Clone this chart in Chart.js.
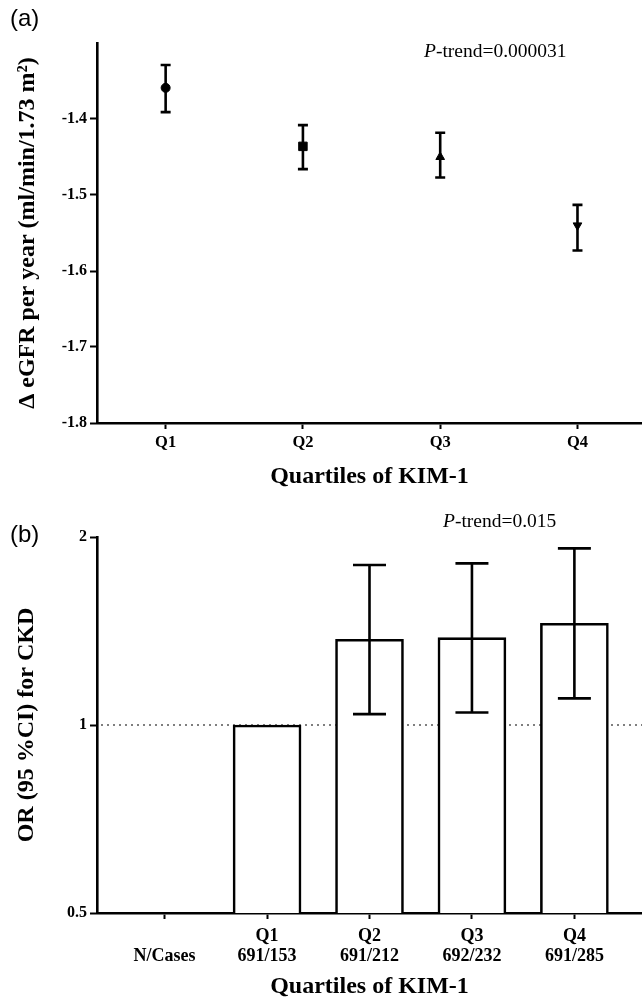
<!DOCTYPE html>
<html><head><meta charset="utf-8">
<script src="https://cdn.jsdelivr.net/npm/chart.js@4.4.0/dist/chart.umd.min.js"></script>
<style>
html,body{margin:0;padding:0;background:#fff;overflow:hidden;}
#wrap{position:relative;width:642px;height:999px;background:#fff;}
canvas{position:absolute;left:0;}
.lab{position:absolute;font-family:"Liberation Sans",Arial,sans-serif;font-size:24px;color:#000;line-height:1;}
.pt{position:absolute;font-family:"Liberation Serif","Times New Roman",serif;font-size:19.5px;color:#000;line-height:1;white-space:nowrap;}
</style></head><body>
<div id="wrap">
<canvas id="c1" width="642" height="500" style="top:0"></canvas>
<canvas id="c2" width="642" height="499" style="top:500px"></canvas>
<div class="lab" style="left:10px;top:6px">(a)</div>
<div class="lab" style="left:10px;top:522px">(b)</div>
<div class="pt" style="left:424px;top:41px"><i>P</i>-trend=0.000031</div>
<div class="pt" style="left:443px;top:511px"><i>P</i>-trend=0.015</div>
</div>
<script>
// ---- Panel (a) data ----
const quartiles = ['Q1', 'Q2', 'Q3', 'Q4'];
const egfrMean = [-1.359, -1.436, -1.450, -1.540];
const egfrLow  = [-1.391, -1.466, -1.477, -1.573];
const egfrHigh = [-1.329, -1.408, -1.418, -1.513];
const egfrTicks = [-1.8, -1.7, -1.6, -1.5, -1.4];
const markerStyles = ['circle', 'rect', 'triangle', 'triangle'];
const markerRotation = [0, 0, 0, 180];
const markerRadius = [4.5, 6, 5, 5];

// ---- Panel (b) data ----
const ckdLabels = [['', 'N/Cases'], ['Q1', '691/153'], ['Q2', '691/212'], ['Q3', '692/232'], ['Q4', '691/285']];
const orPos   = [1, 2, 3, 4];
const orValue = [1.00, 1.372, 1.38, 1.455];
const orLow   = [null, 1.041, 1.047, 1.103];
const orHigh  = [null, 1.804, 1.815, 1.918];
const orTicks = [0.5, 1, 2];
const refValue = 1;

const SERIF = '"Liberation Serif","Times New Roman",serif';

const errorBarPlugin = {
  id: 'errbars',
  beforeDatasetsDraw(chart, args, o) { if (o.before) draw(chart, o); },
  afterDatasetsDraw(chart, args, o) { if (!o.before) draw(chart, o); }
};
function draw(chart, o) {
  const {ctx, scales: {x, y}} = chart;
  ctx.save();
  ctx.strokeStyle = '#000';
  ctx.lineWidth = o.width;
  ctx.lineCap = 'butt';
  o.low.forEach((lo, i) => {
    const hi = o.high[i];
    if (lo == null || hi == null) return;
    const px = x.getPixelForValue(o.pos[i]);
    const pl = y.getPixelForValue(lo), ph = y.getPixelForValue(hi);
    ctx.beginPath();
    ctx.moveTo(px, pl); ctx.lineTo(px, ph);
    ctx.moveTo(px - o.cap / 2, pl); ctx.lineTo(px + o.cap / 2, pl);
    ctx.moveTo(px - o.cap / 2, ph); ctx.lineTo(px + o.cap / 2, ph);
    ctx.stroke();
  });
  ctx.restore();
}

const refLinePlugin = {
  id: 'refline',
  beforeDatasetsDraw(chart, args, o) {
    const {ctx, chartArea, scales: {y}} = chart;
    const py = y.getPixelForValue(o.value);
    ctx.save();
    ctx.strokeStyle = '#555';
    ctx.lineWidth = 1.6;
    ctx.setLineDash([2, 4]);
    ctx.beginPath();
    ctx.moveTo(chartArea.left + 4, py);
    ctx.lineTo(chartArea.right, py);
    ctx.stroke();
    ctx.restore();
  }
};

const gridOpts = {display: true, drawOnChartArea: false, tickLength: 7, tickWidth: 2, tickColor: '#000'};
const borderOpts = {display: true, color: '#000', width: 2.6};
const fitX = h => s => { s.height = h; s.paddingLeft = 0; s.paddingRight = 0; };
const fitY = w => s => { s.width = w; s.paddingTop = 0; s.paddingBottom = 0; };

new Chart(document.getElementById('c1'), {
  type: 'scatter',
  data: {datasets: [{
    data: egfrMean.map((v, i) => ({x: i, y: v})),
    pointStyle: markerStyles,
    pointRotation: markerRotation,
    pointRadius: markerRadius,
    pointBackgroundColor: '#000',
    pointBorderColor: '#000',
    pointBorderWidth: 1
  }]},
  options: {
    responsive: false, animation: false, events: [],
    layout: {autoPadding: false, padding: {top: 43, left: 0, right: 0, bottom: 0}},
    plugins: {
      legend: {display: false}, tooltip: {enabled: false},
      errbars: {before: true, pos: quartiles.map((q, i) => i), low: egfrLow, high: egfrHigh, width: 2.6, cap: 10}
    },
    scales: {
      x: {
        type: 'linear', min: -0.5, max: 3.47,
        afterBuildTicks: s => { s.ticks = quartiles.map((q, i) => ({value: i})); },
        afterFit: fitX(77),
        ticks: {callback: v => quartiles[v], color: '#000', padding: 4, maxRotation: 0, autoSkip: false,
                font: {family: SERIF, size: 16.5, weight: 'bold'}},
        grid: Object.assign({}, gridOpts, {tickLength: 6}),
        border: borderOpts,
        title: {display: true, text: 'Quartiles of KIM-1', color: '#000',
                font: {family: SERIF, size: 24, weight: 'bold', lineHeight: 1}, padding: {top: 0, bottom: 11}}
      },
      y: {
        type: 'linear', min: -1.8, max: -1.3,
        afterBuildTicks: s => { s.ticks = egfrTicks.map(v => ({value: v})); },
        afterFit: fitY(97),
        ticks: {callback: v => v.toFixed(1), color: '#000', padding: 3,
                font: {family: SERIF, size: 16, weight: 'bold'}},
        grid: gridOpts,
        border: borderOpts,
        title: {display: true, text: 'Δ eGFR per year (ml/min/1.73 m²)', color: '#000',
                font: {family: SERIF, size: 24, weight: 'bold', lineHeight: 1}, padding: {top: 16, bottom: 0}}
      }
    }
  },
  plugins: [errorBarPlugin]
});

new Chart(document.getElementById('c2'), {
  type: 'bar',
  data: {datasets: [{
    data: orValue.map((v, i) => ({x: orPos[i], y: v})),
    backgroundColor: '#fff',
    borderColor: '#000',
    borderWidth: 2.6,
    barThickness: 68
  }]},
  options: {
    responsive: false, animation: false, events: [],
    layout: {autoPadding: false, padding: {top: 37, left: 0, right: 0, bottom: 0}},
    plugins: {
      legend: {display: false}, tooltip: {enabled: false},
      errbars: {before: false, pos: orPos, low: orLow, high: orHigh, width: 2.6, cap: 33},
      refline: {value: refValue}
    },
    scales: {
      x: {
        type: 'linear', min: -0.66, max: 4.66, offset: false,
        afterBuildTicks: s => { s.ticks = ckdLabels.map((l, i) => ({value: i})); },
        afterFit: fitX(86),
        ticks: {callback: v => ckdLabels[v], color: '#000', padding: 7, maxRotation: 0, autoSkip: false,
                font: {family: SERIF, size: 18, weight: 'bold', lineHeight: 20 / 18}},
        grid: Object.assign({}, gridOpts, {tickLength: 6, offset: false}),
        border: borderOpts,
        title: {display: true, text: 'Quartiles of KIM-1', color: '#000',
                font: {family: SERIF, size: 24, weight: 'bold', lineHeight: 1}, padding: {top: 0, bottom: 0}}
      },
      y: {
        type: 'logarithmic', min: 0.5, max: 2,
        afterBuildTicks: s => { s.ticks = orTicks.map(v => ({value: v})); },
        afterFit: fitY(97),
        ticks: {callback: v => String(v), color: '#000', padding: 3,
                font: {family: SERIF, size: 16, weight: 'bold'}},
        grid: gridOpts,
        border: borderOpts,
        title: {display: true, text: 'OR (95 %CI) for CKD', color: '#000',
                font: {family: SERIF, size: 24, weight: 'bold', lineHeight: 1}, padding: {top: 15, bottom: 0}}
      }
    }
  },
  plugins: [errorBarPlugin, refLinePlugin]
});
</script>
</body></html>
